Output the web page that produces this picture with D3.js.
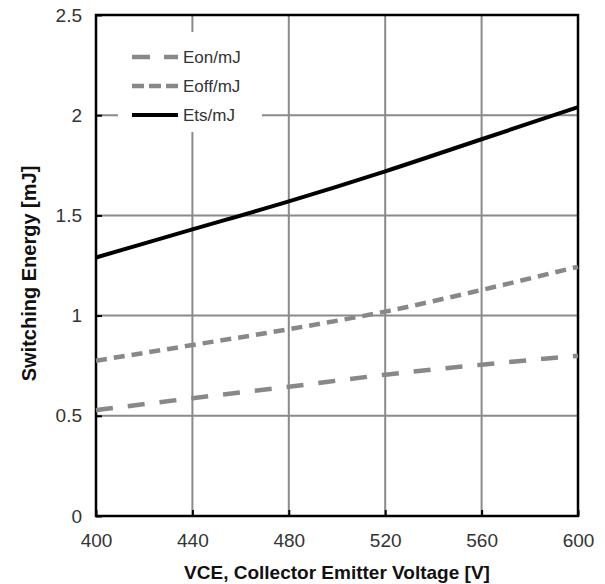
<!DOCTYPE html>
<html>
<head>
<meta charset="utf-8">
<script src="https://cdn.jsdelivr.net/npm/d3@7"></script>
<style>
  body { margin: 0; background: #fff; }
  text { font-family: "Liberation Sans", Arial, sans-serif; }
</style>
</head>
<body>
<div id="chart"></div>
<script>
// Chart values
let voltages = [400, 440, 480, 520, 560, 600];
let eon = [0.528, 0.588, 0.645, 0.705, 0.755, 0.80];
let eoff = [0.775, 0.853, 0.932, 1.02, 1.128, 1.244];
let ets = [1.29, 1.43, 1.57, 1.72, 1.88, 2.04];
let xTicks = [400, 440, 480, 520, 560, 600];
let yTicks = [0, 0.5, 1, 1.5, 2, 2.5];

let svgWidth = 605;
let svgHeight = 584;

let margin = { top: 15, right: 27, bottom: 68, left: 96 };
let width = svgWidth - margin.left - margin.right;
let height = svgHeight - margin.top - margin.bottom;

let svg = d3.select('#chart')
    .append('svg')
    .attr('width', svgWidth)
    .attr('height', svgHeight);

let chartGroup = svg.append('g')
    .attr('transform', `translate(${margin.left}, ${margin.top})`);

let xScale = d3.scaleLinear().domain([400, 600]).range([0, width]);
let yScale = d3.scaleLinear().domain([0, 2.5]).range([height, 0]);

// grid lines
chartGroup.append('g')
    .selectAll('line')
    .data(xTicks.slice(1, -1))
    .enter()
    .append('line')
    .attr('x1', d => xScale(d)).attr('x2', d => xScale(d))
    .attr('y1', 0).attr('y2', height)
    .attr('stroke', '#8a8a8a')
    .attr('stroke-width', 2);

chartGroup.append('g')
    .selectAll('line')
    .data(yTicks.slice(1, -1))
    .enter()
    .append('line')
    .attr('x1', 0).attr('x2', width)
    .attr('y1', d => yScale(d)).attr('y2', d => yScale(d))
    .attr('stroke', '#8a8a8a')
    .attr('stroke-width', 2);

// axes with inward ticks
let bottomAxis = d3.axisBottom(xScale).tickValues(xTicks).tickSizeInner(-6).tickSizeOuter(0).tickPadding(18);
let leftAxis = d3.axisLeft(yScale).tickValues(yTicks).tickSizeInner(-6).tickSizeOuter(0).tickPadding(14)
    .tickFormat(d3.format('~g'));

let xAxis = chartGroup.append('g')
    .attr('transform', `translate(0, ${height})`)
    .call(bottomAxis);

let yAxis = chartGroup.append('g')
    .call(leftAxis);

[xAxis, yAxis].forEach(function(ax) {
    ax.select('.domain').remove();
    ax.selectAll('line').attr('stroke', '#000').attr('stroke-width', 2);
    ax.selectAll('text')
        .attr('fill', '#333')
        .style('font-size', '19px');
});

// frame
chartGroup.append('rect')
    .attr('x', 0).attr('y', 0)
    .attr('width', width).attr('height', height)
    .attr('fill', 'none')
    .attr('stroke', '#000')
    .attr('stroke-width', 2.5);

// series lines
let series = [
    { name: 'Eon/mJ', values: eon, color: '#888', w: 4.5, dash: '17,15', legendDash: '18,14' },
    { name: 'Eoff/mJ', values: eoff, color: '#888', w: 4.5, dash: '11,7', legendDash: '12,5' },
    { name: 'Ets/mJ', values: ets, color: '#000', w: 4, dash: null, legendDash: null }
];

let line = d3.line()
    .x(d => xScale(d.x))
    .y(d => yScale(d.y))
    .curve(d3.curveMonotoneX);

series.forEach(function(s) {
    chartGroup.append('path')
        .datum(voltages.map((v, i) => ({ x: v, y: s.values[i] })))
        .attr('d', line)
        .attr('fill', 'none')
        .attr('stroke', s.color)
        .attr('stroke-width', s.w)
        .attr('stroke-dasharray', s.dash);
});

// legend with white background
let legend = chartGroup.append('g')
    .attr('transform', 'translate(22, 17)');

legend.append('rect')
    .attr('x', 0).attr('y', 0)
    .attr('width', 144).attr('height', 100)
    .attr('fill', '#fff');

series.forEach(function(s, i) {
    let ly = 25 + i * 29;
    legend.append('line')
        .attr('x1', 14).attr('x2', 60)
        .attr('y1', ly).attr('y2', ly)
        .attr('stroke', s.color)
        .attr('stroke-width', s.w)
        .attr('stroke-dasharray', s.legendDash);
    legend.append('text')
        .attr('x', 65)
        .attr('y', ly)
        .attr('dy', '0.35em')
        .attr('fill', '#333')
        .style('font-size', '17px')
        .text(s.name);
});

// axis titles
chartGroup.append('text')
    .attr('x', width / 2)
    .attr('y', height + 63)
    .attr('text-anchor', 'middle')
    .style('font-size', '19px')
    .style('font-weight', 'bold')
    .attr('fill', '#111')
    .text('VCE, Collector Emitter Voltage [V]');

chartGroup.append('text')
    .attr('transform', 'rotate(-90)')
    .attr('x', -height / 2 - 8)
    .attr('y', -60)
    .attr('text-anchor', 'middle')
    .style('font-size', '20px')
    .style('font-weight', 'bold')
    .attr('fill', '#111')
    .text('Switching Energy [mJ]');
</script>
</body>
</html>
